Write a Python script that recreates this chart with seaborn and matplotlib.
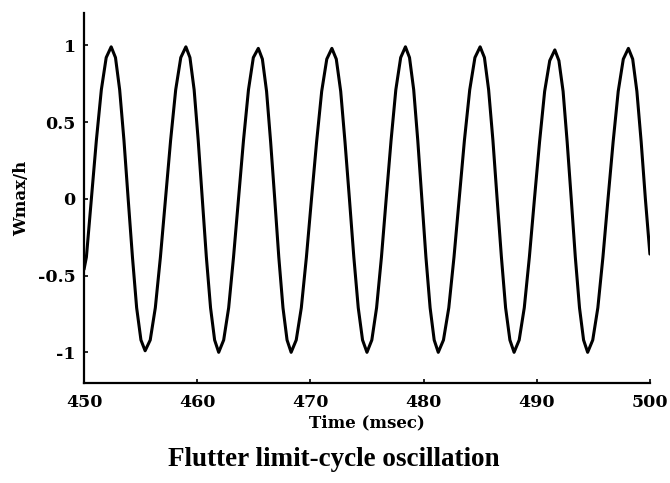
import matplotlib
matplotlib.use("Agg")
import matplotlib.pyplot as plt
import pandas as pd
import seaborn as sns

# Time samples (msec) and normalised deflection
time_ms = [
    450.00, 450.21, 450.65, 451.09, 451.53, 451.96, 452.40,
    452.78, 453.15, 453.53, 453.90, 454.28, 454.65, 455.03, 455.40,
    455.85, 456.30, 456.75, 457.20, 457.65, 458.10, 458.55, 459.00,
    459.36, 459.73, 460.09, 460.45, 460.81, 461.18, 461.54, 461.90,
    462.34, 462.78, 463.21, 463.65, 464.09, 464.53, 464.96, 465.40,
    465.76, 466.13, 466.49, 466.85, 467.21, 467.58, 467.94, 468.30,
    468.75, 469.20, 469.65, 470.10, 470.55, 471.00, 471.45, 471.90,
    472.29, 472.68, 473.06, 473.45, 473.84, 474.23, 474.61, 475.00,
    475.43, 475.85, 476.28, 476.70, 477.13, 477.55, 477.98, 478.40,
    478.76, 479.13, 479.49, 479.85, 480.21, 480.58, 480.94, 481.30,
    481.76, 482.23, 482.69, 483.15, 483.61, 484.08, 484.54, 485.00,
    485.38, 485.75, 486.13, 486.50, 486.88, 487.25, 487.63, 488.00,
    488.45, 488.90, 489.35, 489.80, 490.25, 490.70, 491.15, 491.60,
    491.96, 492.33, 492.69, 493.05, 493.41, 493.78, 494.14, 494.50,
    494.95, 495.40, 495.85, 496.30, 496.75, 497.20, 497.65, 498.10,
    498.48, 498.85, 499.23, 499.60, 500.00,
]
w_max_h = [
    -0.46, -0.38, 0.00, 0.38, 0.71, 0.92, 0.99,
    0.92, 0.71, 0.38, 0.00, -0.38, -0.71, -0.92, -0.99,
    -0.92, -0.71, -0.38, 0.00, 0.38, 0.71, 0.92, 0.99,
    0.92, 0.71, 0.38, 0.00, -0.38, -0.71, -0.92, -1.00,
    -0.92, -0.71, -0.38, 0.00, 0.38, 0.71, 0.92, 0.98,
    0.91, 0.70, 0.37, 0.00, -0.38, -0.71, -0.92, -1.00,
    -0.92, -0.71, -0.38, 0.00, 0.37, 0.70, 0.91, 0.98,
    0.91, 0.70, 0.37, 0.00, -0.38, -0.71, -0.92, -1.00,
    -0.92, -0.71, -0.38, 0.00, 0.38, 0.71, 0.92, 0.99,
    0.92, 0.71, 0.38, 0.00, -0.38, -0.71, -0.92, -1.00,
    -0.92, -0.71, -0.38, 0.00, 0.38, 0.71, 0.92, 0.99,
    0.92, 0.71, 0.38, 0.00, -0.38, -0.71, -0.92, -1.00,
    -0.92, -0.71, -0.38, 0.00, 0.37, 0.70, 0.90, 0.97,
    0.90, 0.70, 0.37, 0.00, -0.38, -0.71, -0.92, -1.00,
    -0.92, -0.71, -0.38, 0.00, 0.37, 0.70, 0.91, 0.98,
    0.91, 0.70, 0.37, 0.00, -0.36,
]

x_ticks = [450, 460, 470, 480, 490, 500]
y_ticks = [-1, -0.5, 0, 0.5, 1]
y_tick_labels = ['-1', '-0.5', '0', '0.5', '1']

df = pd.DataFrame({'time': time_ms, 'w': w_max_h})

sns.set_style('ticks')
plt.rcParams['font.family'] = ['Liberation Serif', 'DejaVu Serif']
plt.rcParams['text.color'] = 'black'
plt.rcParams['xtick.color'] = 'black'
plt.rcParams['ytick.color'] = 'black'
plt.rcParams['axes.labelcolor'] = 'black'
plt.rcParams['lines.solid_joinstyle'] = 'round'

fig = plt.figure(figsize=(6.7, 4.83), dpi=100)
ax = fig.add_axes([0.1254, 0.207, 0.8446, 0.766])

sns.lineplot(x='time', y='w', data=df, color='black', linewidth=2.2,
             sort=False, estimator=None, ax=ax)

ax.set_xlim(450, 500)
ax.set_ylim(-1.2, 1.21)
ax.set_xticks(x_ticks)
ax.set_yticks(y_ticks)
ax.set_yticklabels(y_tick_labels)

for lab in ax.get_xticklabels() + ax.get_yticklabels():
    lab.set_fontfamily('DejaVu Serif')
    lab.set_fontweight('bold')
    lab.set_fontsize(12.5)

ax.tick_params(direction='in', length=3, width=1.2, color='black', pad=8)
ax.tick_params(axis='y', pad=6)

sns.despine(ax=ax)
for s in ['left', 'bottom']:
    ax.spines[s].set_linewidth(1.6)
    ax.spines[s].set_color('black')

ax.set_xlabel('Time (msec)', fontsize=12, fontweight='bold',
              fontfamily='DejaVu Serif', labelpad=2)
ax.set_ylabel('Wmax/h', fontsize=12, fontweight='bold',
              fontfamily='DejaVu Serif')
ax.yaxis.set_label_coords(-0.095, 0.5)

fig.text(0.498, 0.048, 'Flutter limit-cycle oscillation', ha='center',
         va='center', fontsize=19.5, fontweight='bold')

fig.savefig('out.png', dpi=100, facecolor='white')
